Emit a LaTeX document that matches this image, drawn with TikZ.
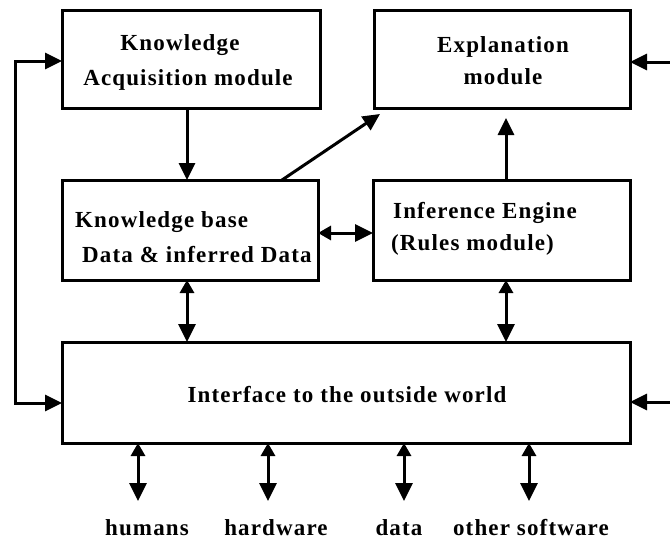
\documentclass[tikz,border=0pt]{standalone}
\usepackage{fontspec}
\setmainfont{Liberation Serif}[LetterSpace=5]
\usetikzlibrary{arrows.meta}
\begin{document}
\begin{tikzpicture}[x=1pt,y=-1pt,
  box/.style={draw,line width=3pt,inner sep=0pt,outer sep=0pt},
  txt/.style={font=\bfseries\fontsize{23}{35}\selectfont,inner sep=0pt,anchor=base},
  txtl/.style={txt,anchor=base west},
  conn/.style={line width=3pt,-{Triangle[length=17pt,width=16pt]}},
  bi/.style={line width=3pt,{Triangle[length=13pt,width=14pt]}-{Triangle[length=18pt,width=17pt]}}]
\useasboundingbox (0,0) rectangle (670,541);

% module boxes
\node[box,minimum width=258pt,minimum height=98pt] (ka) at (191,59) {};
\node[box,minimum width=256pt,minimum height=98pt] (ex) at (502,59) {};
\node[box,minimum width=256pt,minimum height=100pt] (kb) at (190,230) {};
\node[box,minimum width=257pt,minimum height=100pt] (ie) at (501.5,230) {};
\node[box,minimum width=568pt,minimum height=101pt] (io) at (346,392.5) {};

% box texts
\node[txt] (ka1) at (180,50) {Knowledge};
\node[txt] (ka2) at (188,85) {Acquisition module};
\node[txt] (ex1) at (503,52) {Explanation};
\node[txt] (ex2) at (503,84) {module};
\node[txtl] (kb1) at (75,227) {Knowledge base};
\node[txtl] (kb2) at (82,262) {Data \& inferred Data};
\node[txtl] (ie1) at (393,218) {Inference Engine};
\node[txtl] (ie2) at (391,250) {(Rules module)};
\node[txt] (io1) at (347,402) {Interface to the outside world};

% outside-world labels
\node[txt] (hum) at (147,535) {humans};
\node[txt] (hw) at (276,535) {hardware};
\node[txt] (dat) at (399,535) {data};
\node[txt] (sw) at (531,535) {other software};

% feedback loop on the left
\coordinate (lt) at (15,61);
\coordinate (lb) at (15,403);
\draw[conn] (lb) -- (lt) -- (ka.west |- lt);
\draw[conn] (lt) -- (lb) -- (io.west |- lb);

% inputs from the right
\coordinate (rt) at (670,62);
\coordinate (rb) at (670,402);
\draw[conn] (rt) -- (ex.east |- rt);
\draw[conn] (rb) -- (io.east |- rb);

% internal flows
\coordinate (exin1) at (380,114);
\coordinate (exin2) at (506,118);
\draw[conn] (ka.south -| 187,0) -- (kb.north -| 187,0);
\draw[conn] (kb.north -| 282,0) -- (exin1);
\draw[conn] (ie.north -| exin2) -- (exin2);
\draw[bi] (kb.east |- 0,233) -- (ie.west |- 0,233);
\draw[bi] (kb.south -| 187,0) -- (io.north -| 187,0);
\draw[bi] (ie.south -| 506,0) -- (io.north -| 506,0);

% links to the outside world
\coordinate (o1) at (138,501);
\coordinate (o2) at (268,501);
\coordinate (o3) at (404,501);
\coordinate (o4) at (529,501);
\draw[bi] (io.south -| o1) -- (o1);
\draw[bi] (io.south -| o2) -- (o2);
\draw[bi] (io.south -| o3) -- (o3);
\draw[bi] (io.south -| o4) -- (o4);
\end{tikzpicture}
\end{document}
